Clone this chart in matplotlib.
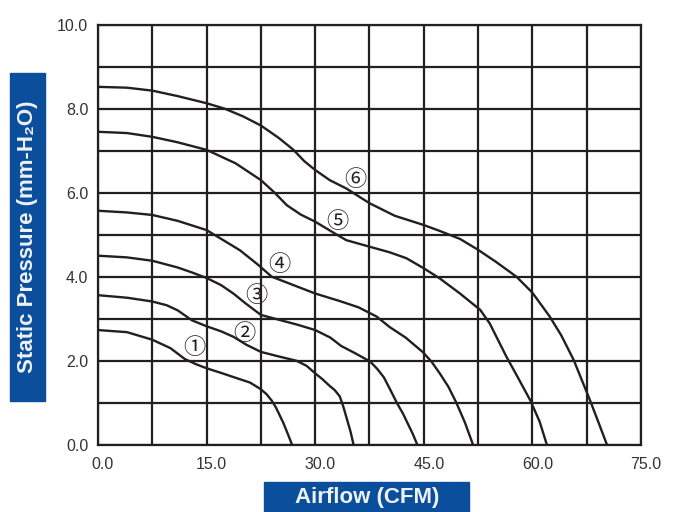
import matplotlib.pyplot as plt
import matplotlib.transforms as mtransforms
from matplotlib.patches import Rectangle

# P-Q curves (airflow in CFM, static pressure in mm-H2O)
flow_1 = [0, 4, 7.5, 10, 12, 13.5, 15, 17, 18.9, 21, 22.5, 23.3, 24, 24.6, 25.1, 25.6, 26, 26.4, 26.8]
pres_1 = [2.73, 2.68, 2.5, 2.3, 2.04, 1.92, 1.82, 1.71, 1.6, 1.48, 1.32, 1.2, 1.05, 0.88, 0.7, 0.52, 0.35, 0.18, 0]

flow_2 = [0, 4, 7.5, 9.5, 11, 13, 15, 17, 18.7, 20.5, 22.5, 25, 27.4, 28.8, 30, 31, 32, 32.7, 33.4, 33.9,
          34.4, 34.9, 35.3]
pres_2 = [3.56, 3.5, 3.41, 3.32, 3.2, 2.96, 2.82, 2.7, 2.57, 2.38, 2.21, 2.1, 2.0, 1.88, 1.7, 1.56, 1.4, 1.3,
          1.15, 0.9, 0.6, 0.3, 0]

flow_3 = [0, 4, 7.5, 11, 13, 15, 17, 18.7, 20.5, 22.5, 25.1, 27.5, 30, 32.1, 33.6, 35.5, 37.6, 38.6, 39.5,
          40.4, 41.3, 42.1, 42.8, 43.5, 44.1]
pres_3 = [4.5, 4.46, 4.38, 4.22, 4.1, 3.97, 3.8, 3.6, 3.35, 3.09, 2.97, 2.86, 2.73, 2.55, 2.35, 2.18, 1.98,
          1.8, 1.6, 1.3, 0.99, 0.75, 0.5, 0.25, 0]

flow_4 = [0, 4, 7.5, 11, 15, 17.5, 19.6, 22, 24, 27, 30, 33.4, 36, 38.5, 40.3, 42.5, 44.9, 46.1, 47.2,
          48.4, 49.5, 50.7, 51.8]
pres_4 = [5.57, 5.53, 5.47, 5.33, 5.11, 4.85, 4.63, 4.3, 4.0, 3.8, 3.6, 3.42, 3.27, 3.05, 2.8, 2.55, 2.2,
          1.97, 1.7, 1.38, 1.0, 0.52, 0]

flow_5 = [0, 4, 7.5, 11, 15, 19, 22.5, 24.4, 26.1, 28, 30, 32.7, 34.3, 37.6, 40.3, 42.6,
          45, 47.2, 50, 52.8, 54.1, 56.4, 58, 59.7, 61, 62]
pres_5 = [7.45, 7.42, 7.33, 7.2, 7.02, 6.7, 6.3, 6.0, 5.7, 5.48, 5.31, 5.03, 4.87, 4.71, 4.58, 4.44,
          4.2, 3.96, 3.6, 3.21, 2.89, 2.1, 1.6, 1.06, 0.55, 0]

flow_6 = [0, 4, 7.5, 11, 15, 17.5, 20, 22.5, 25, 27, 28.5, 30, 32, 34.3, 37.5, 41, 45, 47.2,
          50, 52.5, 55, 57.8, 60, 62.4, 64, 65.7, 68, 69.2, 70.3]
pres_6 = [8.52, 8.5, 8.43, 8.3, 8.13, 8.0, 7.82, 7.6, 7.3, 7.02, 6.75, 6.54, 6.3, 6.1, 5.75, 5.45, 5.23, 5.09,
          4.9, 4.64, 4.35, 4.0, 3.62, 3.05, 2.6, 2.02, 1.04, 0.5, 0]

curve_marks = ["①", "②", "③", "④", "⑤", "⑥"]
mark_x = [13.3, 20.2, 21.9, 25.0, 33.0, 35.5]
mark_y = [2.32, 2.65, 3.56, 4.3, 5.31, 6.32]

x_ticks = [0, 15, 30, 45, 60, 75]
y_ticks = [0, 2, 4, 6, 8, 10]

blue = "#0b4f9c"
ink = "#231f20"

fig = plt.figure(figsize=(6.78, 5.12), dpi=100)
ax = fig.add_axes([0.1445, 0.1314, 0.8009, 0.8204])

curves = [(flow_1, pres_1), (flow_2, pres_2), (flow_3, pres_3),
          (flow_4, pres_4), (flow_5, pres_5), (flow_6, pres_6)]
for fx, py in curves:
    ax.plot(fx, py, color=ink, lw=1.7, solid_joinstyle="round", zorder=3)

for m, mx, my in zip(curve_marks, mark_x, mark_y):
    ax.text(mx, my, m, ha="center", va="center", fontsize=16, color=ink,
            family=["Noto Sans CJK SC", "DejaVu Sans"], zorder=4)

ax.set_xlim(0, 75)
ax.set_ylim(0, 10)
ax.set_xticks(x_ticks)
ax.set_xticks([7.5 + 15 * i for i in range(5)], minor=True)
ax.set_yticks(y_ticks)
ax.set_yticks([1, 3, 5, 7, 9], minor=True)
ax.set_xticklabels([f"{v:.1f}" for v in x_ticks])
ax.set_yticklabels([f"{v:.1f}" for v in y_ticks])
ax.grid(True, which="both", color=ink, lw=1.6)
ax.set_axisbelow(True)
ax.tick_params(which="both", length=0, labelsize=11.5, labelcolor="#333333")
ax.tick_params(axis="x", pad=9)
ax.tick_params(axis="y", pad=7)
for s in ax.spines.values():
    s.set_color(ink)
    s.set_linewidth(1.6)
for lab in ax.get_xticklabels() + ax.get_yticklabels():
    lab.set_family("Liberation Sans")

shift = mtransforms.ScaledTranslation(5 / 100, 0, fig.dpi_scale_trans)
for lab in ax.get_xticklabels():
    lab.set_transform(lab.get_transform() + shift)

# blue title boxes
W, H = 678, 512
fig.patches.append(Rectangle((10 / W, 1 - 401 / H), 35 / W, 328 / H,
                             transform=fig.transFigure, color=blue, zorder=0))
fig.patches.append(Rectangle((264 / W, 1 - 514 / H), 205 / W, 32 / H,
                             transform=fig.transFigure, color=blue, zorder=0))
fig.text(28 / W, 1 - 237 / H, "Static Pressure (mm-H₂O)", rotation=90,
         ha="center", va="center", fontsize=16, fontweight="bold",
         color="#eef2f7", family=["Liberation Sans", "DejaVu Sans"])
fig.text(367 / W, 1 - 497 / H, "Airflow (CFM)", ha="center", va="center",
         fontsize=16, fontweight="bold", color="#eef2f7",
         family=["Liberation Sans", "DejaVu Sans"])

fig.savefig("out.png", dpi=100)
